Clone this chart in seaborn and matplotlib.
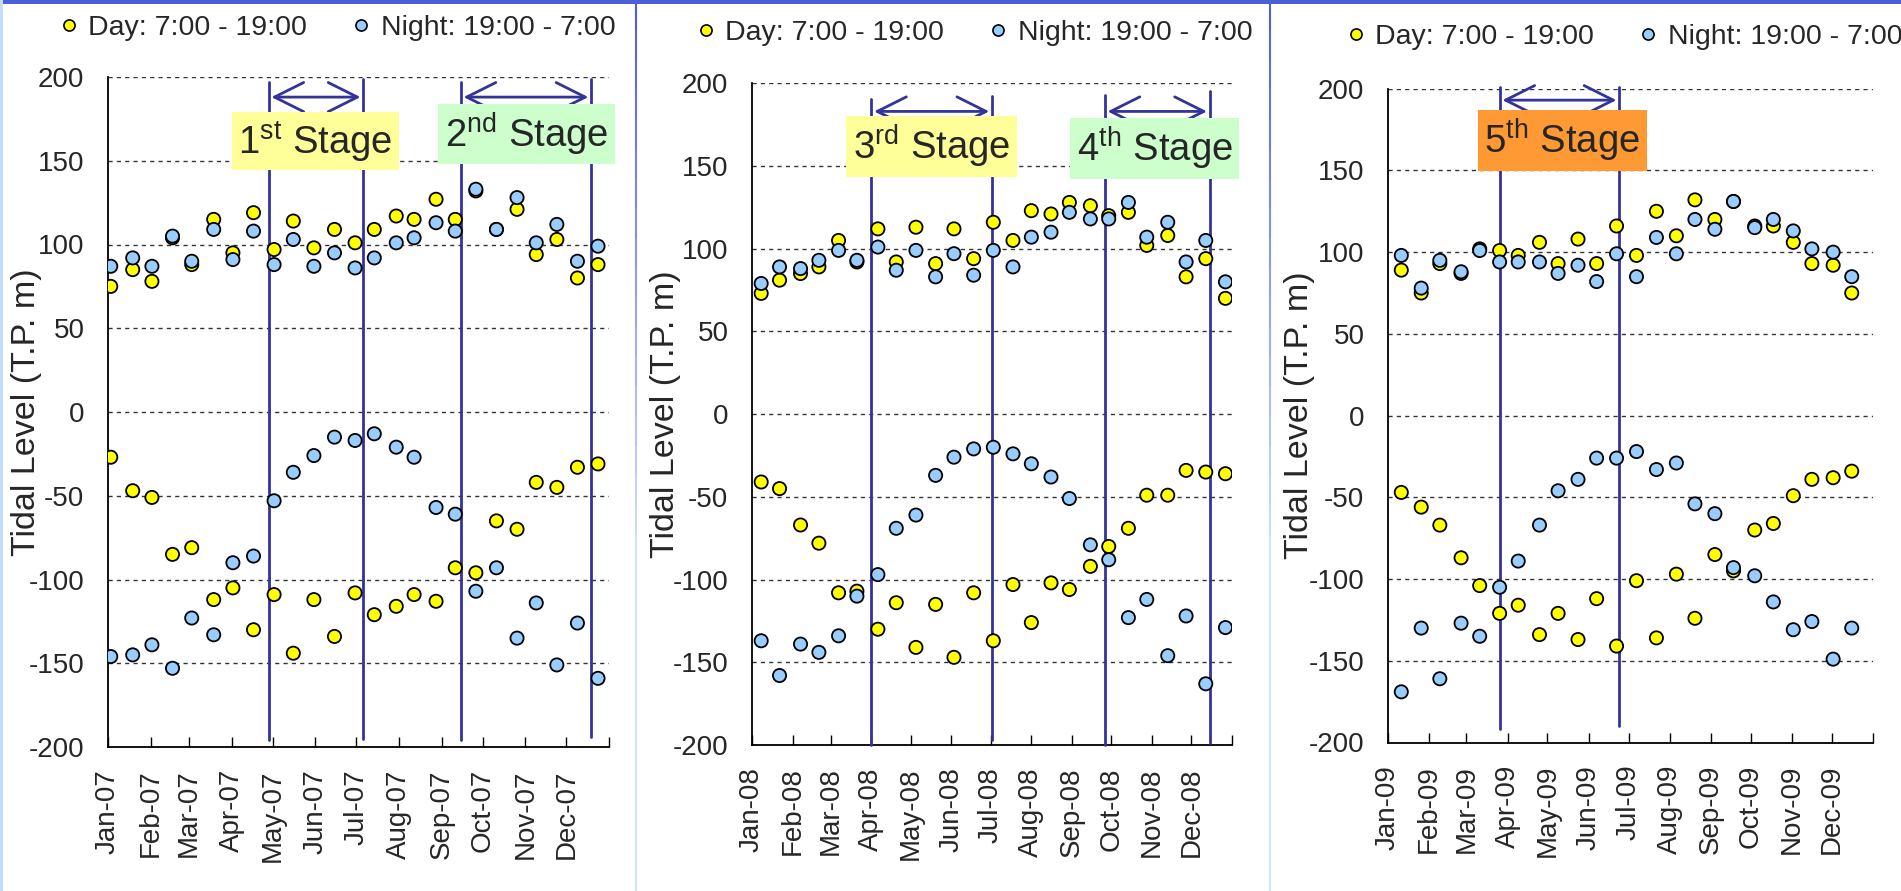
import numpy as np
import pandas as pd
import matplotlib
matplotlib.use("Agg")
import matplotlib.pyplot as plt
import matplotlib.dates as mdates
from matplotlib.lines import Line2D
from matplotlib.patches import Rectangle
from matplotlib.collections import LineCollection
import seaborn as sns

sns.set_style("white")
plt.rcParams["font.family"] = ["Liberation Sans", "DejaVu Sans"]
plt.rcParams["mathtext.fontset"] = "custom"
plt.rcParams["mathtext.rm"] = "Liberation Sans"
plt.rcParams["axes.unicode_minus"] = False

# ---- data (cm, T.P.) ----
dates_07 = ["2007-01-03", "2007-01-19", "2007-02-02", "2007-02-17", "2007-03-03",
            "2007-03-19", "2007-04-02", "2007-04-17", "2007-05-02", "2007-05-16",
            "2007-05-31", "2007-06-15", "2007-06-30", "2007-07-14", "2007-07-30",
            "2007-08-12", "2007-08-28", "2007-09-11", "2007-09-26", "2007-10-11",
            "2007-10-26", "2007-11-09", "2007-11-24", "2007-12-09", "2007-12-24"]
day_high_07 = [75, 85, 78, 104, 88, 115, 95, 119, 97, 114, 98, 109, 101,
               109, 117, 115, 127, 115, 132, 109, 121, 94, 103, 80, 88]
night_high_07 = [87, 92, 87, 105, 90, 109, 91, 108, 88, 103, 87, 95, 86,
                 92, 101, 104, 113, 108, 133, 109, 128, 101, 112, 90, 99]
day_low_07 = [-27, -47, -51, -85, -81, -112, -105, -130, -109, -144, -112, -134, -108,
              -121, -116, -109, -113, -93, -96, -65, -70, -42, -45, -33, -31]
night_low_07 = [-146, -145, -139, -153, -123, -133, -90, -86, -53, -36, -26, -15, -17,
                -13, -21, -27, -57, -61, -107, -93, -135, -114, -151, -126, -159]

dates_08 = ["2008-01-08", "2008-01-22", "2008-02-07", "2008-02-21", "2008-03-07",
            "2008-03-21", "2008-04-06", "2008-04-20", "2008-05-05", "2008-05-20",
            "2008-06-03", "2008-06-18", "2008-07-03", "2008-07-18", "2008-08-01",
            "2008-08-16", "2008-08-30", "2008-09-15", "2008-09-29", "2008-10-14",
            "2008-10-28", "2008-11-13", "2008-11-27", "2008-12-12", "2008-12-27"]
day_high_08 = [73, 81, 85, 89, 105, 92, 112, 92, 113, 91, 112, 94, 116,
               105, 123, 121, 128, 126, 120, 122, 102, 108, 83, 94, 70]
night_high_08 = [79, 89, 88, 93, 99, 93, 101, 87, 99, 83, 97, 84, 99,
                 89, 107, 110, 122, 118, 118, 128, 107, 116, 92, 105, 80]
day_low_08 = [-41, -45, -67, -78, -108, -107, -130, -114, -141, -115, -147, -108, -137,
              -103, -126, -102, -106, -92, -80, -69, -49, -49, -34, -35, -36]
night_low_08 = [-137, -158, -139, -144, -134, -110, -97, -69, -61, -37, -26, -21, -20,
                -24, -30, -38, -51, -79, -88, -123, -112, -146, -122, -163, -129]

dates_09 = ["2009-01-11", "2009-01-26", "2009-02-09", "2009-02-25", "2009-03-11",
            "2009-03-26", "2009-04-09", "2009-04-25", "2009-05-09", "2009-05-24",
            "2009-06-07", "2009-06-22", "2009-07-07", "2009-07-22", "2009-08-06",
            "2009-08-20", "2009-09-04", "2009-09-18", "2009-10-04", "2009-10-18",
            "2009-11-02", "2009-11-16", "2009-12-02", "2009-12-16"]
day_high_09 = [89, 75, 93, 87, 102, 101, 98, 106, 93, 108, 93, 116,
               98, 125, 110, 132, 120, 131, 116, 116, 106, 93, 92, 75]
night_high_09 = [98, 78, 95, 88, 101, 94, 94, 94, 87, 92, 82, 99,
                 85, 109, 99, 120, 114, 131, 115, 120, 113, 102, 100, 85]
day_low_09 = [-47, -56, -67, -87, -104, -121, -116, -134, -121, -137, -112, -141,
              -101, -136, -97, -124, -85, -95, -70, -66, -49, -39, -38, -34]
night_low_09 = [-169, -130, -161, -127, -135, -105, -89, -67, -46, -39, -26, -26,
                -22, -33, -29, -54, -60, -93, -98, -114, -131, -126, -149, -130]

stage_lines_07 = ["2007-04-28", "2007-07-06", "2007-09-15", "2007-12-19"]
stage_lines_08 = ["2008-04-01", "2008-07-02", "2008-09-26", "2008-12-15"]
stage_lines_09 = ["2009-03-26", "2009-06-24"]

stage_names_07 = [("1", "st"), ("2", "nd")]
stage_names_08 = [("3", "rd"), ("4", "th")]
stage_names_09 = [("5", "th")]

day_label = "Day: 7:00 - 19:00"
night_label = "Night: 19:00 - 7:00"
day_color = "#FFFF00"
night_color = "#99CCFF"
line_color = "#333399"

panels = [
    dict(year=2007, dates=dates_07, dh=day_high_07, nh=night_high_07, dl=day_low_07, nl=night_low_07,
         lines=stage_lines_07, names=stage_names_07,
         rect=[108 / 1901, 144 / 891, 501 / 1901, 670 / 891],
         line_y=[(197, -196), (199, -195), (197, -196), (199, -194)], arrow_y=188,
         boxes=[("2007-06-01", 161.6, "#FFFF99"), ("2007-11-02", 165.8, "#CCFFCC")],
         ylab_x=-0.163, leg=(338 / 1901, 1 - 28 / 891)),
    dict(year=2008, dates=dates_08, dh=day_high_08, nh=night_high_08, dl=day_low_08, nl=night_low_08,
         lines=stage_lines_08, names=stage_names_08,
         rect=[752 / 1901, 146 / 891, 480 / 1901, 661.7 / 891],
         line_y=[(190.5, -200), (192.5, -197), (193, -200), (195.5, -199)], arrow_y=183,
         boxes=[("2008-05-17", 161.8, "#FFFF99"), ("2008-11-03", 160.6, "#CCFFCC")],
         ylab_x=-0.18, leg=(975 / 1901, 1 - 33 / 891)),
    dict(year=2009, dates=dates_09, dh=day_high_09, nh=night_high_09, dl=day_low_09, nl=night_low_09,
         lines=stage_lines_09, names=stage_names_09,
         rect=[1388 / 1901, 148.5 / 891, 485 / 1901, 653.8 / 891],
         line_y=[(201, -192), (201, -190)], arrow_y=193,
         boxes=[("2009-05-12", 168.3, "#FF9933")],
         ylab_x=-0.183, leg=(1625 / 1901, 1 - 37 / 891)),
]

fig = plt.figure(figsize=(19.01, 8.91), dpi=100)

for p in panels:
    ax = fig.add_axes(p["rect"])
    d = pd.to_datetime(p["dates"])
    df = pd.concat([
        pd.DataFrame({"date": d, "level": p["dh"], "period": "Day"}),
        pd.DataFrame({"date": d, "level": p["dl"], "period": "Day"}),
        pd.DataFrame({"date": d, "level": p["nh"], "period": "Night"}),
        pd.DataFrame({"date": d, "level": p["nl"], "period": "Night"}),
    ], ignore_index=True)
    sns.scatterplot(data=df, x="date", y="level", hue="period", hue_order=["Day", "Night"],
                    palette={"Day": day_color, "Night": night_color}, s=90,
                    edgecolor="black", linewidth=1.3, legend=False, ax=ax, zorder=4)

    y0 = pd.Timestamp(f"{p['year']}-01-01")
    y1 = pd.Timestamp(f"{p['year'] + 1}-01-01")
    ax.set_xlim(y0, y1)
    ax.set_ylim(-200, 200)
    ax.set_yticks(np.arange(-200, 201, 50))
    ticks = pd.date_range(y0, y1, freq="MS")
    ax.set_xticks(mdates.date2num(ticks))
    ax.set_xticklabels([t.strftime("%b-%y") for t in ticks[:-1]] + [""], rotation=90)
    ax.yaxis.grid(True, linestyle=(0, (3, 3)), color="#333333", linewidth=1)
    ax.xaxis.grid(False)
    ax.set_axisbelow(True)
    for s in ["top", "right"]:
        ax.spines[s].set_visible(False)
    for s in ["left", "bottom"]:
        ax.spines[s].set_color("black")
        ax.spines[s].set_linewidth(1.3)
    ax.tick_params(axis="x", direction="in", length=7, width=1, pad=16, labelsize=20,
                   bottom=True, color="black")
    ax.tick_params(axis="y", length=0, pad=17, labelsize=20)
    ax.set_xlabel("")
    ax.set_ylabel("Tidal Level (T.P. m)", fontsize=24.5, va="center")
    ax.yaxis.set_label_coords(p["ylab_x"], 0.5)

    # stage boundaries and arrows
    lx = pd.to_datetime(p["lines"])
    for x, (top, bot) in zip(lx, p["line_y"]):
        ax.plot([x, x], [top, bot], color=line_color, lw=2, zorder=3, clip_on=False)
    for i in range(0, len(lx), 2):
        ax.annotate("", xy=(mdates.date2num(lx[i + 1]), p["arrow_y"]),
                    xytext=(mdates.date2num(lx[i]), p["arrow_y"]),
                    arrowprops=dict(arrowstyle="<->,head_length=0.7,head_width=0.35",
                                    color=line_color, lw=2, mutation_scale=30,
                                    shrinkA=2, shrinkB=2), zorder=3)
    for (bx, by, bc), (num, sup) in zip(p["boxes"], p["names"]):
        ax.text(mdates.date2num(pd.Timestamp(bx)), by, num + r"$^{\rm " + sup + "}$ Stage",
                fontsize=27.5, ha="center", va="center", zorder=5,
                bbox=dict(boxstyle="square,pad=0.17", fc=bc, ec="none"))

    handles = [Line2D([], [], ls="", marker="o", ms=8, mfc=day_color, mec="black", mew=1.2),
               Line2D([], [], ls="", marker="o", ms=8, mfc=night_color, mec="black", mew=1.2)]
    fig.legend(handles, [day_label, night_label], loc="center", bbox_to_anchor=p["leg"],
               ncol=2, frameon=False, fontsize=20.5, handlelength=0.6, handletextpad=0.4,
               columnspacing=1.6, borderpad=0, borderaxespad=0)

# page frame
fig.add_artist(Rectangle((0, 1 - 4 / 891), 1, 4 / 891, transform=fig.transFigure,
                         color="#4D5FD6", lw=0, zorder=10))
fig.add_artist(Rectangle((0, 0), 2.5 / 1901, 1, transform=fig.transFigure,
                         color="#C5DEFF", lw=0, zorder=10))
top_c = np.array(matplotlib.colors.to_rgb("#4D5FD6"))
bot_c = np.array(matplotlib.colors.to_rgb("#CCE4FF"))
for sx in [636 / 1901, 1269.5 / 1901]:
    ys = np.linspace(1, 0, 31)
    segs = [[(sx, ys[k]), (sx, ys[k + 1])] for k in range(30)]
    cols = [top_c + (bot_c - top_c) * min(1, k / 18) for k in range(30)]
    fig.add_artist(LineCollection(segs, colors=cols, linewidths=1.5,
                                  transform=fig.transFigure, zorder=10))

fig.savefig("out.png", dpi=100)
